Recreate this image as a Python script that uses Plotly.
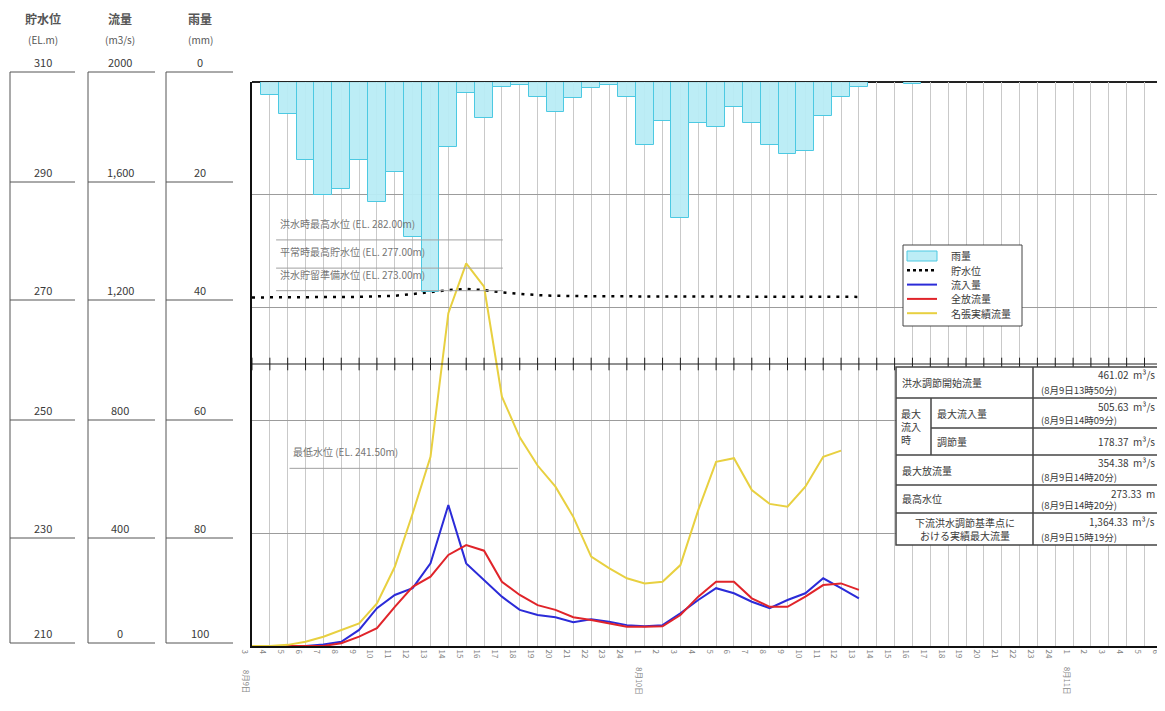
import plotly.graph_objects as go

# hour index along the x axis (one gridline per hour)
hours = list(range(52))
hour_labels = ["3"] + [str(h) for h in range(4, 25)] + [str(h) for h in range(1, 25)] + [str(h) for h in range(1, 7)]
date_labels = {0: "8月9日", 22: "8月10日", 46: "8月11日"}

# rainfall (mm/h)
rain = [0, 2.3, 5.7, 13.8, 20.0, 19.0, 13.8, 21.3, 16.0, 27.5, 37.2, 11.5, 2.0, 6.4, 0.8, 0.5,
        2.7, 5.3, 2.8, 1.1, 0.5, 2.7, 11.2, 7.0, 24.2, 7.3, 7.9, 4.4, 7.3, 11.2, 12.8, 12.2,
        6.1, 2.6, 0.8, 0, 0, 0.3]
# reservoir level (EL.m)
level = [271.8, 271.8, 271.8, 271.85, 271.85, 271.9, 271.9, 272.0, 272.1, 272.4, 272.8, 273.1,
         273.3, 273.1, 272.7, 272.4, 272.2, 272.1, 272.0, 272.0, 272.0, 272.0, 271.95, 271.95,
         271.95, 271.95, 271.9, 271.9, 271.9, 271.9, 271.9, 271.9, 271.9, 271.9, 271.9]
# inflow (m3/s)
inflow = [0, 0, 0, 0, 5, 15, 57, 134, 181, 205, 293, 500, 293, 234, 175, 128, 110, 102, 84, 95,
          86, 74, 70, 74, 116, 163, 205, 187, 157, 134, 163, 187, 240, 205, 169]
# total release (m3/s)
release = [0, 0, 0, 0, 0, 10, 33, 63, 139, 210, 246, 323, 358, 338, 228, 181, 145, 128, 102, 92,
           80, 68, 68, 70, 110, 175, 228, 228, 169, 139, 139, 175, 216, 222, 199]
# observed flow at Nabari (m3/s)
nabari = [0, 0, 4, 15, 33, 57, 80, 151, 281, 470, 671, 1180, 1357, 1274, 884, 740, 640, 565, 458,
          317, 276, 240, 222, 228, 287, 482, 653, 666, 553, 504, 494, 565, 671, 693]

ref_levels = [282.0, 277.0, 273.0, 241.5]
ref_texts = ["洪水時最高水位 (EL. 282.00m)", "平常時最高貯水位 (EL. 277.00m)",
             "洪水貯留準備水位 (EL. 273.00m)", "最低水位 (EL. 241.50m)"]

level_ticks = ["310", "290", "270", "250", "230", "210"]
flow_ticks = ["2000", "1,600", "1,200", "800", "400", "0"]
rain_ticks = ["0", "20", "40", "60", "80", "100"]

table_rows = [
    ("洪水調節開始流量", "461.02  m³/s", "(8月9日13時50分)"),
    ("最大流入量", "505.63  m³/s", "(8月9日14時09分)"),
    ("調節量", "178.37  m³/s", ""),
    ("最大放流量", "354.38  m³/s", "(8月9日14時20分)"),
    ("最高水位", "273.33  m", "(8月9日14時20分)"),
    ("下流洪水調節基準点に<br>おける実績最大流量", "1,364.33  m³/s", "(8月9日15時19分)"),
]

# screen geometry (the page body adds an 8px margin around the figure)
W, H, OFF = 1165, 711, 8
L, R, T, B = 252, 1165, 82, 646
HOUR_PX = 17.85


def px(x):
    return (x - L) / (R - L)


def py(y):
    return (B - y) / (B - T)


FONT = "Noto Sans CJK JP"
TXT = "#3a3a3a"
RAIN_FILL, RAIN_EDGE = "rgba(184,236,246,0.95)", "#4cc9e2"
C_LEVEL, C_IN, C_OUT, C_NAB = "black", "#2b2bd8", "#e0242a", "#e8d040"


def note(x, y, text, size=9, xanchor="center", yanchor="middle", color=TXT, **kw):
    return dict(xref="paper", yref="paper", x=px(x), y=py(y), text=text, showarrow=False,
                xanchor=xanchor, yanchor=yanchor, font=dict(size=size, color=color, family=FONT), **kw)


def pline(x0, y0, x1, y1, color="#555", width=1, dash="solid"):
    return dict(type="line", xref="paper", yref="paper", x0=px(x0), x1=px(x1), y0=py(y0), y1=py(y1),
                line=dict(color=color, width=width, dash=dash))


fig = go.Figure()
fig.add_trace(go.Bar(x=hours[:len(rain)], y=rain, yaxis="y3", width=1, name="雨量",
                     marker=dict(color=RAIN_FILL, line=dict(color=RAIN_EDGE, width=1))))
fig.add_trace(go.Scatter(x=hours[:len(level)], y=level, yaxis="y2", mode="lines", name="貯水位",
                         line=dict(color=C_LEVEL, width=2.5, dash="3px,6px")))
fig.add_trace(go.Scatter(x=hours[:len(inflow)], y=inflow, mode="lines", name="流入量",
                         line=dict(color=C_IN, width=2)))
fig.add_trace(go.Scatter(x=hours[:len(release)], y=release, mode="lines", name="全放流量",
                         line=dict(color=C_OUT, width=2)))
fig.add_trace(go.Scatter(x=hours[:len(nabari)], y=nabari, mode="lines", name="名張実績流量",
                         line=dict(color=C_NAB, width=2)))
# the ticked line at 1000 m3/s
fig.add_trace(go.Scatter(x=hours, y=[1000] * len(hours), mode="lines+markers", showlegend=False,
                         hoverinfo="skip", line=dict(color="#222", width=1),
                         marker=dict(symbol="line-ns", size=9, line=dict(color="#222", width=1))))

shapes = []
annos = []

# reference water levels
for lv, txt in zip(ref_levels, ref_texts):
    x0, x1 = (2.1, 14.9) if lv < 250 else (1.35, 14.05)
    shapes.append(dict(type="line", xref="x", yref="y2", x0=x0, x1=x1, y0=lv, y1=lv,
                       line=dict(color="#a0a0a0", width=1)))
    annos.append(dict(xref="x", yref="y2", x=x0 + 0.1, y=lv, text=txt, showarrow=False,
                      xanchor="left", yanchor="bottom", yshift=7,
                      font=dict(size=10, color="#757575", family=FONT)))

# top border
shapes.append(dict(type="line", xref="paper", yref="paper", x0=0, x1=1, y0=1, y1=1,
                   line=dict(color="#222", width=2), layer="below"))

# date labels under the hour ticks
for i, d in date_labels.items():
    annos.append(dict(xref="x", yref="paper", x=i, y=py(681), text=d, textangle=90,
                      showarrow=False, xshift=-5, xanchor="center", yanchor="middle",
                      font=dict(size=7.5, color="#888", family=FONT)))

# legend box (drawn by hand to keep the compact row spacing)
shapes.append(dict(type="rect", xref="paper", yref="paper", x0=px(903), x1=px(1022),
                   y0=py(245), y1=py(326), fillcolor="white", line=dict(color="#444", width=1)))
shapes.append(dict(type="rect", xref="paper", yref="paper", x0=px(907), x1=px(937),
                   y0=py(251), y1=py(261), fillcolor=RAIN_FILL, line=dict(color=RAIN_EDGE, width=1)))
leg_items = [("雨量", None, None), ("貯水位", C_LEVEL, "dot"), ("流入量", C_IN, "solid"),
             ("全放流量", C_OUT, "solid"), ("名張実績流量", C_NAB, "solid")]
for k, (name, col, dash) in enumerate(leg_items):
    yy = 256 + 14.3 * k
    if col:
        shapes.append(pline(907, yy, 937, yy, color=col, width=2.5 if dash == "dot" else 2, dash=dash))
    annos.append(note(949, yy, name, size=10, xanchor="left"))

# left scale panel
cols = [(10, 75, 43), (88, 155, 120), (166, 233, 200)]
heads = [("貯水位", "(EL.m)"), ("流量", "(m3/s)"), ("雨量", "(mm)")]
line_y = [72, 182, 300, 420, 538, 643]
for (cx0, cx1, cc), (h1, h2), labs in zip(cols, heads, [level_ticks, flow_ticks, rain_ticks]):
    annos.append(note(cc, 18, "<b>" + h1 + "</b>", size=12, color="#555"))
    annos.append(note(cc, 40, h2, size=10, color="#555"))
    shapes.append(pline(cx0, line_y[0], cx0, line_y[-1]))
    for ly, lab in zip(line_y, labs):
        shapes.append(pline(cx0, ly, cx1, ly))
        annos.append(note(cc, ly - 10, lab, size=11))

# summary table
tx0, tx1, tmid, tin = 896, 1166, 1033, 931
row_y = [367, 398, 428, 455, 485, 513, 545]
shapes.append(dict(type="rect", xref="paper", yref="paper", x0=px(tx0), x1=px(tx1),
                   y0=py(row_y[0]), y1=py(row_y[-1]), fillcolor="white",
                   line=dict(color="#444", width=1.5)))
for k, ry in enumerate(row_y[1:-1], start=1):
    shapes.append(pline(tin if k == 2 else tx0, ry, tx1, ry, color="#444", width=1.5))
shapes.append(pline(tmid, row_y[0], tmid, row_y[-1], color="#444", width=1.5))
shapes.append(pline(tin, row_y[1], tin, row_y[3], color="#444", width=1.5))
annos.append(note(899, (row_y[1] + row_y[3]) / 2, "最大<br>流入<br>時", size=10, xanchor="left", align="left"))
for k, (name, val, when) in enumerate(table_rows):
    y0, y1 = row_y[k], row_y[k + 1]
    mid = (y0 + y1) / 2
    if k == len(table_rows) - 1:
        annos.append(note((tx0 + tmid) / 2, mid, name, size=10, align="center"))
    else:
        annos.append(note(tin + 4 if k in (1, 2) else tx0 + 4, mid, name, size=10, xanchor="left"))
    if when:
        annos.append(note(1157, y0 + 8, val, size=10, xanchor="right"))
        annos.append(note(1039, y1 - 8, when, size=9.5, xanchor="left"))
    else:
        annos.append(note(1157, mid, val, size=10, xanchor="right"))

fig.update_layout(
    width=W - OFF, height=H - OFF,
    margin=dict(l=L - OFF, r=W - R, t=T - OFF, b=H - B),
    paper_bgcolor="white", plot_bgcolor="white",
    font=dict(family=FONT, color=TXT),
    bargap=0,
    showlegend=False,
    xaxis=dict(range=[0, (R - L) / HOUR_PX], tickmode="array", tickvals=hours, ticktext=hour_labels,
               tickangle=90, ticklabelshift=-7, tickfont=dict(size=8, color="#808080"),
               showgrid=True, gridcolor="#c9c9c9", gridwidth=1, zeroline=False,
               showline=True, linecolor="#111", linewidth=2, ticks=""),
    yaxis=dict(range=[0, 2000], dtick=400, showticklabels=False, showgrid=True, gridcolor="#9c9c9c",
               zeroline=False, showline=True, linecolor="#111", linewidth=2, ticks=""),
    yaxis2=dict(range=[210, 310], overlaying="y", visible=False),
    yaxis3=dict(range=[100, 0], overlaying="y", visible=False),
    shapes=shapes,
    annotations=annos,
)

fig.write_html("out.html")
